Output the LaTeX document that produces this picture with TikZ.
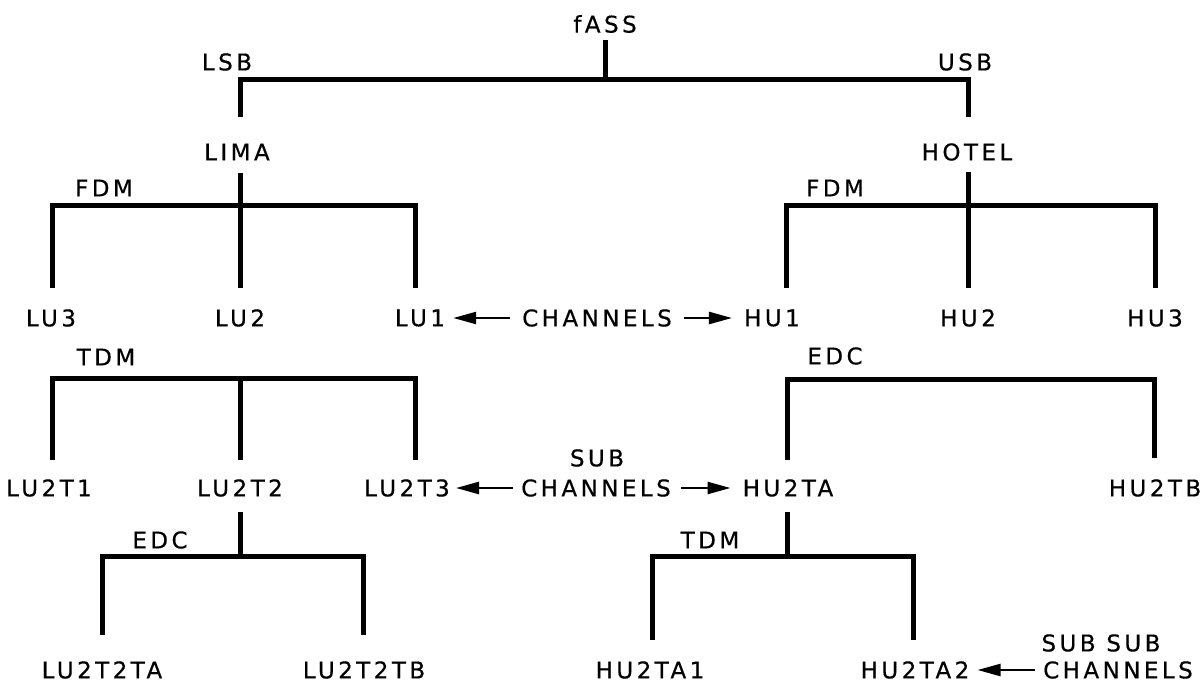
\documentclass[tikz,border=0pt]{standalone}
\usepackage{fontspec}
\usetikzlibrary{arrows.meta,calc}
% lettering-guide style: uniform strokes, wide letter spacing
\newfontfamily\lett[LetterSpace=15,FakeBold=0.5]{DejaVu Sans}
\begin{document}
\begin{tikzpicture}[x=1pt,y=-1pt,
  lbl/.style={inner sep=0pt,anchor=center,font=\lett\fontsize{23}{27}\selectfont},
  bar/.style={line width=5pt,line join=miter,line cap=butt},
  arr/.style={line width=2.4pt,-{Triangle[length=23pt,width=12pt]}}]
\useasboundingbox (0,0) rectangle (1204,682);

% ---- labels ----
\node[lbl] (fass)  at (605,24)  {fASS};
\node[lbl] (lsb)   at (227,62)  {LSB};
\node[lbl] (usb)   at (965,62)  {USB};
\node[lbl] (lima)  at (237,152) {LIMA};
\node[lbl] (hotel) at (967,152) {HOTEL};
\node[lbl] (fdmL)  at (104,188) {FDM};
\node[lbl] (fdmR)  at (835,188) {FDM};

\node[lbl] (lu3) at (51,318)   {LU3};
\node[lbl] (lu2) at (240,318)  {LU2};
\node[lbl] (lu1) at (420,318)  {LU1};
\node[lbl] (ch1) at (597,318)  {CHANNELS};
\node[lbl] (hu1) at (772,318)  {HU1};
\node[lbl] (hu2) at (968,318)  {HU2};
\node[lbl] (hu3) at (1155,318) {HU3};

\node[lbl] (tdmL) at (106,357) {TDM};
\node[lbl] (edcR) at (835,356) {EDC};

\node[lbl] (lu2t1) at (49,488)   {LU2T1};
\node[lbl] (lu2t2) at (240,488)  {LU2T2};
\node[lbl] (lu2t3) at (407,488)  {LU2T3};
\node[lbl] (sub2)  at (597,458)  {SUB};
\node[lbl] (ch2)   at (596,488)  {CHANNELS};
\node[lbl] (hu2ta) at (788,488)  {HU2TA};
\node[lbl] (hu2tb) at (1155,488) {HU2TB};

\node[lbl] (edcL) at (160,540) {EDC};
\node[lbl] (tdmR) at (710,540) {TDM};

\node[lbl] (lu2t2ta) at (102,670)  {LU2T2TA};
\node[lbl] (lu2t2tb) at (364,670)  {LU2T2TB};
\node[lbl] (hu2ta1)  at (650,670)  {HU2TA1};
\node[lbl] (hu2ta2)  at (915,670)  {HU2TA2};
\node[lbl] (sub3)    at (1101,643) {SUB SUB};
\node[lbl] (ch3)     at (1118,670) {CHANNELS};

% ---- tree junctions ----
\coordinate (jTop)  at (605,80);
\coordinate (jLima) at (240,205);
\coordinate (jHot)  at (968,205);
\coordinate (jTdmL) at (240,378);
\coordinate (jEdcR) at (787,379);
\coordinate (jEdcL) at (240,556);
\coordinate (jTdmR) at (787,556);

% ---- tree ----
\draw[bar] (605,40) -- (jTop);
\draw[bar] (240,117) |- (jTop) -| (968,117);

\draw[bar] (240,173) -- (240,288);
\draw[bar] (52,288) |- (jLima) -| (415,288);

\draw[bar] (968,172) -- (968,288);
\draw[bar] (786,288) |- (jHot) -| (1155,288);

\draw[bar] (jTdmL) -- (240,460);
\draw[bar] (52,460) |- (jTdmL) -| (415,460);

\draw[bar] (787,460) |- (1154,379) -- (1154,458);

\draw[bar] (240,512) -- (jEdcL);
\draw[bar] (102,635) |- (jEdcL) -| (363,635);

\draw[bar] (787,512) -- (jTdmR);
\draw[bar] (652,640) |- (jTdmR) -| (913,640);

% ---- channel arrows ----
\draw[arr,shorten <=12pt,shorten >=8pt]  (ch1.west) -- (lu1.east);
\draw[arr,shorten <=12pt,shorten >=12pt] (ch1.east) -- (hu1.west);
\draw[arr,shorten <=8pt,shorten >=6pt]   (ch2.west) -- (lu2t3.east);
\draw[arr,shorten <=10pt,shorten >=12pt] (ch2.east) -- (hu2ta.west);
\draw[arr,shorten <=8pt,shorten >=8pt]   (ch3.west) -- (hu2ta2.east);
\end{tikzpicture}
\end{document}
